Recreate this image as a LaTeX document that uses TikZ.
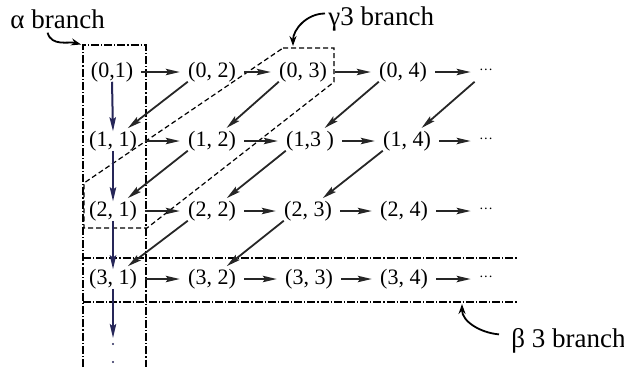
\documentclass[tikz,border=0pt]{standalone}
\usepackage{fontspec}
\setmainfont{Liberation Serif}
\usetikzlibrary{arrows.meta}
\definecolor{vnavy}{RGB}{38,38,88}

\begin{document}
\begin{tikzpicture}[
        x=0.5pt, y=-0.5pt,
        cell/.style={inner sep=0pt, text height=7.4pt, text depth=1.95pt,
            font=\fontsize{11}{13}\selectfont},
        more/.style={cell, font=\fontsize{7}{8}\selectfont},
        lbl/.style={inner sep=0pt, font=\fontsize{13.5}{16}\selectfont},
        arr/.style={-{Stealth[length=7pt, width=3.2pt, inset=1.2pt]},
            line width=0.9pt, black!85},
        harr/.style={arr, shorten <=4pt, shorten >=4pt},
        diag/.style={arr, shorten >=2.5pt},
        varr/.style={arr, vnavy, line width=1pt},
        callout/.style={-{Stealth[length=5pt, width=3.5pt]}, line width=0.9pt,
            shorten >=1pt},
        abr/.style={line width=0.7pt, dash pattern=on 4pt off 1pt on 0.6pt off 1pt},
        gbr/.style={line width=0.6pt, dash pattern=on 2.5pt off 1.5pt},
    ]
    \useasboundingbox (0,0) rectangle (624,371);

    % branch outlines
    \draw[abr] (83,367) |- (146,45) -- (146,367);
    \draw[abr] (83,258) -- (518,258);
    \draw[abr] (83,302) -- (518,302);
    \draw[gbr] (283,48) -- (334,48) -- (334,82) -- (147,228) -- (84,228)
        -- (84,183) -- cycle;
    \coordinate (acorner) at (83,45);
    \coordinate (gtop) at (293,48);
    \coordinate (bline) at (462,302);

    % row 0
    \node[cell] (n01) at (112,72) {(0,1)};
    \node[cell] (n02) at (212,72) {(0, 2)};
    \node[cell] (n03) at (303,72) {(0, 3)};
    \node[cell] (n04) at (403,72) {(0, 4)};
    \node[more] (n05) at (486,72) {\raisebox{1.5pt}{···}};
    % row 1
    \node[cell] (n11) at (113,141) {(1, 1)};
    \node[cell] (n12) at (212,141) {(1, 2)};
    \node[cell] (n13) at (310,141) {(1,3 )};
    \node[cell] (n14) at (407,141) {(1, 4)};
    \node[more] (n15) at (486,141) {\raisebox{1.5pt}{···}};
    % row 2
    \node[cell] (n21) at (113,211) {(2, 1)};
    \node[cell] (n22) at (212,211) {(2, 2)};
    \node[cell] (n23) at (308,211) {(2, 3)};
    \node[cell] (n24) at (404,211) {(2, 4)};
    \node[more] (n25) at (486,211) {\raisebox{1.5pt}{···}};
    % row 3
    \node[cell] (n31) at (113,279) {(3, 1)};
    \node[cell] (n32) at (212,279) {(3, 2)};
    \node[cell] (n33) at (309,279) {(3, 3)};
    \node[cell] (n34) at (404,279) {(3, 4)};
    \node[more] (n35) at (486,279) {\raisebox{1.5pt}{···}};
    \coordinate (vend) at (113,338);

    % along the rows
    \draw[harr] (n01) -- (n02);
    \draw[harr] (n02) -- (n03);
    \draw[harr] (n03) -- (n04);
    \draw[harr] (n04) -- (n05);
    \draw[harr] (n11) -- (n12);
    \draw[harr] (n12) -- (n13);
    \draw[harr] (n13) -- (n14);
    \draw[harr] (n14) -- (n15);
    \draw[harr] (n21) -- (n22);
    \draw[harr] (n22) -- (n23);
    \draw[harr] (n23) -- (n24);
    \draw[harr] (n24) -- (n25);
    \draw[harr] (n31) -- (n32);
    \draw[harr] (n32) -- (n33);
    \draw[harr] (n33) -- (n34);
    \draw[harr] (n34) -- (n35);

    % down the first column
    \draw[varr] (n01.south) -- (n11.north);
    \draw[varr] (n11.south) -- (n21.north);
    \draw[varr] (n21.south) -- (n31.north);
    \draw[varr] (n31.south) -- (vend);
    \fill[vnavy] (113,344) circle (0.6pt);
    \fill[vnavy] (113,362) circle (0.6pt);

    % anti-diagonals
    \draw[diag] (n02.south west) -- (n11.42);
    \draw[diag] (n03.south west) -- (n12.42);
    \draw[diag] (n04.south west) -- (n13.42);
    \draw[diag] ([xshift=-2pt]n05.south west) -- (n14.42);
    \draw[diag] (n12.south west) -- (n21.42);
    \draw[diag] (n13.south west) -- (n22.42);
    \draw[diag] (n14.south west) -- (n23.42);
    \draw[diag] (n22.south west) -- (n31.42);
    \draw[diag] (n23.south west) -- (n32.42);

    % branch labels
    \node[lbl, anchor=base west] (alab) at (10,28) {α branch};
    \node[lbl, anchor=base west] (glab) at (328,25) {γ3 branch};
    \node[lbl, anchor=base west] (blab) at (511,347) {β 3 branch};
    \draw[callout] ([xshift=-5pt,yshift=-2pt]alab.south) to[out=-75, in=165] (acorner);
    \draw[callout] ([xshift=-1.5pt,yshift=2.5pt]glab.west) to[out=180, in=90] (gtop);
    \draw[callout] ([xshift=-6pt,yshift=3pt]blab.west) to[out=175, in=-90] (bline);
\end{tikzpicture}
\end{document}
